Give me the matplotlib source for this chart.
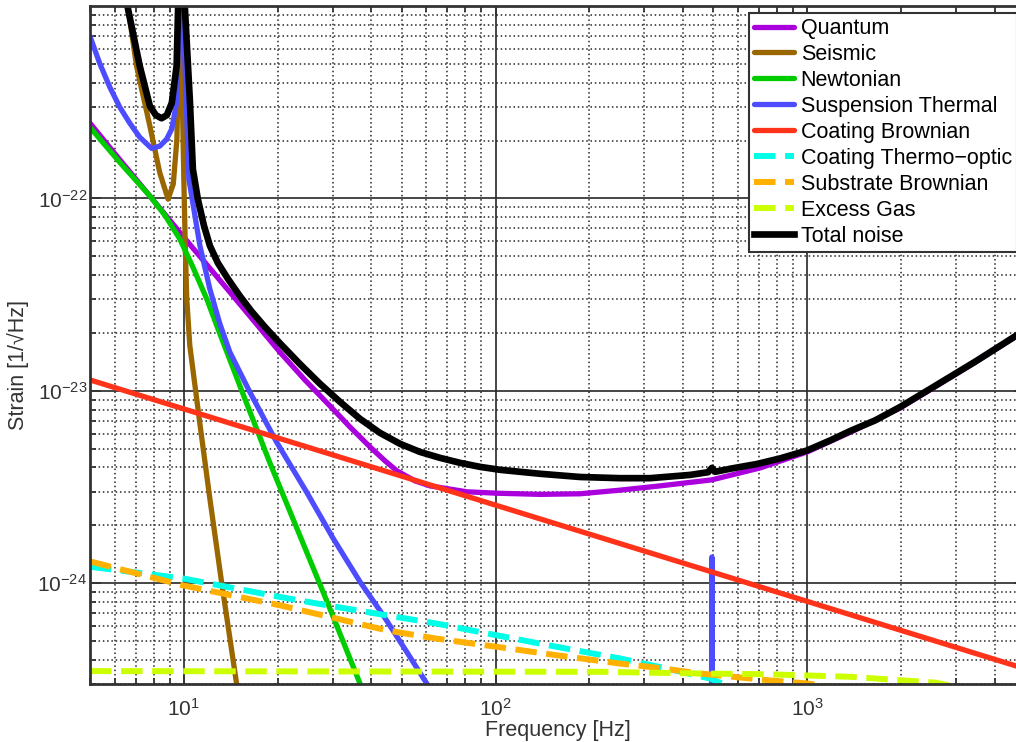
import matplotlib
matplotlib.use('Agg')
import matplotlib.pyplot as plt
from matplotlib.ticker import LogLocator, NullFormatter

plt.rcParams['font.family'] = ['Liberation Sans', 'DejaVu Sans']
plt.rcParams['mathtext.fontset'] = 'custom'
plt.rcParams['mathtext.rm'] = 'Liberation Sans'
plt.rcParams['mathtext.it'] = 'Liberation Sans:italic'
plt.rcParams['mathtext.bf'] = 'Liberation Sans:bold'

# noise budget curves, amplitude spectral density vs frequency
quantum_f = [5.0, 6.23, 7.78, 9.93, 14.05, 20.33, 24.46, 29.42, 34.1, 39.55, 44.2, 48.3, 55.1,
             61.6, 81.0, 101.1, 139, 186.8, 251, 337.5, 494.5, 706.6, 1000, 1374, 1989, 2544,
             3462, 5012]
quantum_s = [2.46e-22, 1.59e-22, 1.03e-22, 6.37e-23, 3.26e-23, 1.59e-23, 1.14e-23, 8.36e-24,
             6.50e-24, 5.12e-24, 4.33e-24, 3.84e-24, 3.41e-24, 3.21e-24, 2.99e-24, 2.94e-24,
             2.90e-24, 2.92e-24, 3.05e-24, 3.21e-24, 3.45e-24, 3.98e-24, 4.82e-24, 6.09e-24,
             8.16e-24, 1.04e-23, 1.41e-23, 2.06e-23]

seismic_f = [6.37, 6.61, 7.05, 7.78, 8.37, 8.90, 9.25, 9.50, 9.82, 9.89, 10.0, 10.11, 10.22,
             10.45, 11.26, 12.12, 13.21, 14.76, 15.13]
seismic_s = [1.5e-21, 1.0e-21, 4.88e-22, 2.38e-22, 1.36e-22, 9.92e-23, 1.19e-22, 2.03e-22,
             3.0e-21, 3.28e-22, 1.26e-22, 5.46e-23, 3.00e-23, 1.72e-23, 6.74e-24, 2.75e-24,
             1.02e-24, 3.02e-25, 2.24e-25]

newtonian_f = [5.0, 6.23, 7.78, 8.69, 9.71, 10.69, 11.85, 13.05, 15.70, 18.88, 23.57, 28.99,
               36.73, 39.0]
newtonian_s = [2.34e-22, 1.54e-22, 1.03e-22, 8.19e-23, 6.15e-23, 4.40e-23, 3.00e-23, 1.98e-23,
               9.09e-24, 4.23e-24, 1.77e-24, 7.84e-25, 3.02e-25, 2.4e-25]

susp_f = [5.0, 5.37, 5.79, 6.23, 6.71, 7.22, 7.88, 8.37, 8.80, 9.15, 9.48, 9.80, 10.38, 11.26,
          12.12, 13.05, 14.05, 16.29, 19.84, 24.77, 30.15, 36.73, 43.63, 51.87, 60.14, 66.0,
          493.0, 494.5, 496.0]
susp_s = [6.95e-22, 5.04e-22, 3.78e-22, 2.98e-22, 2.46e-22, 2.08e-22, 1.82e-22, 1.87e-22,
          2.03e-22, 2.30e-22, 3.16e-22, 2.0e-21, 1.26e-22, 5.68e-23, 3.38e-23, 2.23e-23,
          1.59e-23, 9.85e-24, 5.42e-24, 2.98e-24, 1.71e-24, 1.02e-24, 6.82e-25, 4.41e-25,
          3.02e-25, 2.4e-25, 2.0e-25, 1.37e-24, 2.0e-25]

coat_brown_f = [5.0, 10.0, 100.0, 1000.0, 5000.0]
coat_brown_s = [1.14e-23, 8.06e-24, 2.55e-24, 8.06e-25, 3.6e-25]

coat_to_f = [5.0, 9.95, 20.33, 30.92, 44.74, 64.74, 100.9, 157.2, 251.0, 354.5, 488.3, 533.0, 600.0]
coat_to_s = [1.22e-24, 1.06e-24, 8.50e-25, 7.54e-25, 6.82e-25, 6.18e-25, 5.37e-25, 4.68e-25,
             4.07e-25, 3.61e-25, 3.20e-25, 3.02e-25, 2.7e-25]

sub_brown_f = [5.0, 9.95, 20.33, 30.92, 44.74, 64.74, 100.9, 157.2, 251.0, 313.3, 453.5, 742.4,
               997.7, 1200.0]
sub_brown_s = [1.30e-24, 9.76e-25, 7.69e-25, 6.56e-25, 5.70e-25, 5.16e-25, 4.68e-25, 4.23e-25,
               3.83e-25, 3.68e-25, 3.40e-25, 3.14e-25, 3.02e-25, 2.9e-25]

gas_f = [5.0, 216.6, 453.5, 742.4, 1374, 2576, 3000]
gas_s = [3.50e-25, 3.47e-25, 3.40e-25, 3.37e-25, 3.27e-25, 3.05e-25, 2.9e-25]

total_f = [6.28, 6.55, 7.22, 7.78, 8.13, 8.48, 8.82, 9.15, 9.48, 9.59, 9.85, 10.07, 10.45, 10.69,
           11.09, 11.59, 12.12, 12.86, 13.87, 15.13, 16.49, 18.2, 20.33, 23.57, 27.33, 31.7,
           36.73, 42.6, 49.4, 57.2, 66.3, 76.9, 89.2, 103.4, 139, 186.8, 251, 313.3, 421, 481,
           494.5, 506.7, 566, 689.5, 819, 997.7, 1185, 1374, 1653, 1989, 2544, 3462, 4688, 5012]
total_s = [1.49e-21, 1.05e-21, 4.88e-22, 3.02e-22, 2.71e-22, 2.61e-22, 2.71e-22, 3.14e-22,
           4.88e-22, 1.0e-21, 3.0e-21, 1.0e-21, 3.28e-22, 1.42e-22, 9.92e-23, 7.27e-23, 5.68e-23,
           4.62e-23, 3.81e-23, 3.11e-23, 2.59e-23, 2.15e-23, 1.77e-23, 1.38e-23, 1.09e-23,
           8.77e-24, 7.16e-24, 6.05e-24, 5.31e-24, 4.82e-24, 4.49e-24, 4.23e-24, 4.03e-24,
           3.89e-24, 3.71e-24, 3.57e-24, 3.52e-24, 3.52e-24, 3.66e-24, 3.78e-24, 3.98e-24,
           3.80e-24, 3.94e-24, 4.17e-24, 4.46e-24, 4.90e-24, 5.53e-24, 6.19e-24, 7.03e-24,
           8.26e-24, 1.05e-23, 1.42e-23, 1.94e-23, 2.07e-23]

curves = [
    ('Quantum', quantum_f, quantum_s, '#AA00DD', '-'),
    ('Seismic', seismic_f, seismic_s, '#996600', '-'),
    ('Newtonian', newtonian_f, newtonian_s, '#00CC00', '-'),
    ('Suspension Thermal', susp_f, susp_s, '#4D4DFF', '-'),
    ('Coating Brownian', coat_brown_f, coat_brown_s, '#FF331A', '-'),
    ('Coating Thermo\u2212optic', coat_to_f, coat_to_s, '#00FFE6', 'dash'),
    ('Substrate Brownian', sub_brown_f, sub_brown_s, '#FFB000', 'dash'),
    ('Excess Gas', gas_f, gas_s, '#CCFF00', 'dash'),
]

fig = plt.figure(figsize=(10.16, 7.42), dpi=100)
ax = fig.add_axes([0.0886, 0.0782, 0.9203, 0.9137])

for label, f, s, color, style in curves:
    if style == 'dash':
        ax.loglog(f, s, color=color, lw=4.3, ls=(0, (3.6, 1.6)), label=label)
    else:
        ax.loglog(f, s, color=color, lw=3.8, label=label,
                  solid_joinstyle='round', solid_capstyle='round')
ax.loglog(total_f, total_s, color='black', lw=4.8, label='Total noise',
          solid_joinstyle='round')

ax.set_xlim(5, 5000)
ax.set_ylim(3e-25, 1e-21)
ax.set_xticks([10, 100, 1000])
ax.set_yticks([1e-24, 1e-23, 1e-22])
ax.xaxis.set_minor_locator(LogLocator(base=10, subs=range(2, 10), numticks=20))
ax.yaxis.set_minor_locator(LogLocator(base=10, subs=range(2, 10), numticks=20))
ax.xaxis.set_minor_formatter(NullFormatter())
ax.yaxis.set_minor_formatter(NullFormatter())

ax.set_axisbelow(True)
ax.grid(which='major', color='#262626', lw=1.2, ls='-')
ax.grid(which='minor', color='#262626', lw=1.1, ls=(0, (1, 1.8)))

ax.tick_params(which='both', direction='in', top=True, right=True, color='#333333',
               labelcolor='#333333', labelsize=15, width=1.3)
ax.tick_params(which='major', length=8)
ax.tick_params(which='minor', length=4)
ax.tick_params(axis='x', which='major', pad=10)
ax.tick_params(axis='y', which='major', pad=2)
for sp in ax.spines.values():
    sp.set_color('#333333')
    sp.set_linewidth(2.0)

ax.set_xlabel('Frequency [Hz]', fontsize=15.5, color='#333333', labelpad=0.5)
ax.set_ylabel('Strain [1/\u221aHz]', fontsize=15.5, color='#333333')
ax.yaxis.set_label_coords(-0.065, 0.47)

leg = ax.legend(loc='upper left', bbox_to_anchor=(749 / 1016, 1 - 12.7 / 742),
                bbox_transform=fig.transFigure, borderaxespad=0, fontsize=15.5,
                handlelength=1.85, handletextpad=0.3, labelspacing=0.23, borderpad=0.25,
                fancybox=False, framealpha=1, edgecolor='#333333')
leg.get_frame().set_linewidth(1.5)

fig.savefig('out.png', dpi=100)
